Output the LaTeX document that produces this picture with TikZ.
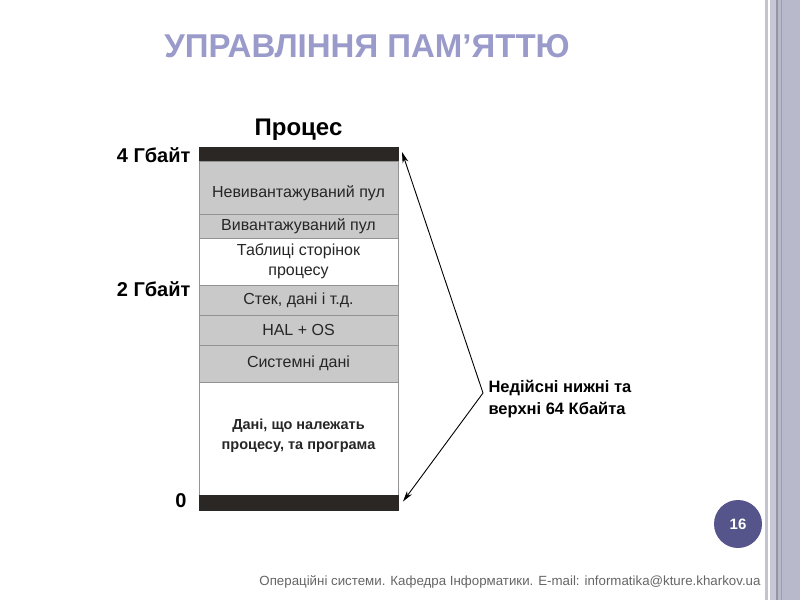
\documentclass[tikz,border=0pt]{standalone}
\usepackage{fontspec}
\setmainfont{Liberation Sans}
\usetikzlibrary{arrows.meta,positioning,calc}
\definecolor{titlelav}{HTML}{9A9ACB}
\definecolor{badgeblue}{HTML}{55558C}
\definecolor{blockgray}{HTML}{C9C9C9}
\definecolor{barblack}{HTML}{2B2725}
\definecolor{stripgray}{HTML}{B9B9CC}

\begin{document}
\begin{tikzpicture}[x=1pt,y=-1pt,
  blk/.style={draw=gray!85,line width=0.8pt,fill=blockgray,minimum width=199pt,inner sep=0pt,outer sep=0pt,align=center,font=\fontsize{16}{20.5}\selectfont,text=black!85},
  wblk/.style={blk,fill=white},
  bar/.style={blk,fill=barblack,draw=barblack},
  glab/.style={font=\bfseries\fontsize{20}{22}\selectfont,anchor=east},
  parc/.style={-{Stealth[length=11pt,width=6pt]},line width=0.9pt},
]
  \useasboundingbox (0,0) rectangle (800,600);
  \fill[white] (0,0) rectangle (800,600);

  % right side strips of the slide
  \fill[black!15!stripgray!60] (765,0) rectangle (767.5,600);
  \fill[stripgray!80] (770,0) rectangle (776,600);
  \fill[stripgray!80!black] (776,0) rectangle (778,600);
  \fill[stripgray] (778,0) rectangle (800,600);
  \fill[stripgray!85!black] (781,0) rectangle (782,600);

  \node[font=\bfseries\fontsize{33}{36}\selectfont,text=titlelav] (title) at (367,46) {УПРАВЛІННЯ ПАМ’ЯТТЮ};

  % address space of the process
  \node[bar,minimum height=14pt,anchor=north] (top) at (298.5,147) {};
  \node[blk,minimum height=53pt,text height=23pt,text depth=3pt,below=0pt of top] (nevyv) {Невивантажуваний пул};
  \node[blk,minimum height=24pt,below=0pt of nevyv] (vyv) {Вивантажуваний пул};
  \node[wblk,minimum height=47pt,below=0pt of vyv] (tabl) {Таблиці сторінок\\процесу};
  \node[blk,minimum height=30pt,below=0pt of tabl] (stek) {Стек, дані і т.д.};
  \node[blk,minimum height=30pt,below=0pt of stek] (hal) {HAL + OS};
  \node[blk,minimum height=37pt,below=0pt of hal] (sys) {Системні дані};
  \node[wblk,minimum height=113pt,text depth=9pt,below=0pt of sys,font=\bfseries\fontsize{14.5}{19.5}\selectfont] (dani) {Дані, що належать\\процесу, та програма};
  \node[bar,minimum height=15pt,below=0pt of dani] (bot) {};

  \node[font=\bfseries\fontsize{24}{26}\selectfont] (proc) at (298.5,130) {Процес};

  % address marks
  \node[glab] (g4) at (194,155) {4 Гбайт};
  \node[glab] (g2) at (194,289) {2 Гбайт};
  \node[glab] (g0) at (190,501) {0};

  % invalid 64 KB areas
  \node[font=\bfseries\fontsize{16.5}{22}\selectfont,align=left,anchor=west] (inval) at (485,399) {Недійсні нижні та\\верхні 64 Кбайта};
  \coordinate (apex) at ([xshift=-2pt,yshift=6pt]inval.west);
  \draw[parc] (apex) -- ([xshift=4pt,yshift=2pt]top.east);
  \draw[parc] (apex) -- ([xshift=5pt,yshift=1pt]bot.east);

  % slide number and footer
  \node[circle,fill=badgeblue,minimum size=48pt,inner sep=0pt,text=white,font=\bfseries\fontsize{15}{17}\selectfont] (pgnum) at (738,524) {16};
  \node[text=black!60,font=\fontsize{13.3}{15}\selectfont,anchor=east] (foot) at (764,582) {Операційні системи. Кафедра Інформатики. E-mail: informatika@kture.kharkov.ua};
\end{tikzpicture}
\end{document}
